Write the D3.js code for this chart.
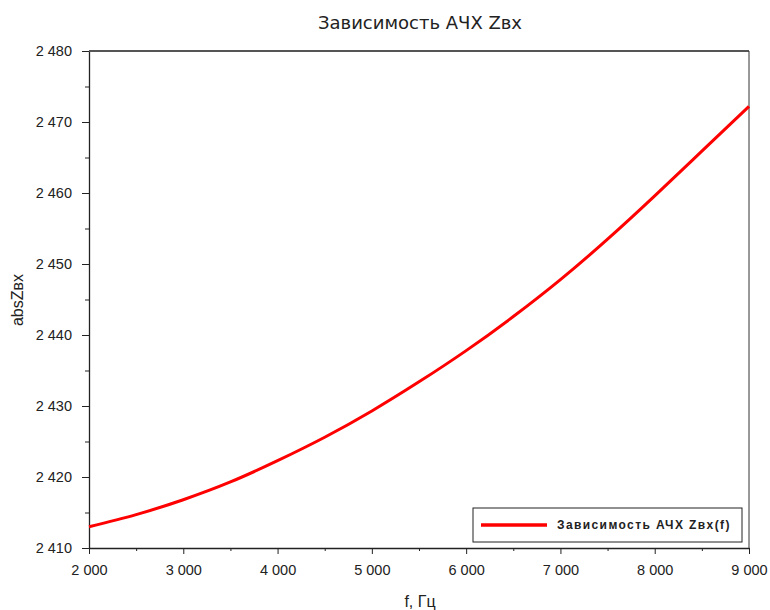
<!DOCTYPE html>
<html>
  <head>
    <meta charset="utf-8">
    <title>Зависимость АЧХ Zвх</title>
    <style>
    body {
        margin: 0;
        background-color: #FFF;
    }
    .tick text {
        font: 14.5px "Liberation Sans", Arial, sans-serif;
        fill: #222;
    }
    .title {
        font: 18px "DejaVu Sans", sans-serif;
        fill: #222;
    }
    .axis-label {
        font: 16px "Liberation Sans", Arial, sans-serif;
        fill: #222;
    }
    .legend text {
        font: bold 12px "Liberation Sans", Arial, sans-serif;
        letter-spacing: 1.4px;
        fill: #222;
    }
    </style>
    <script src="https://d3js.org/d3.v7.min.js"></script>
  </head>
  <body>
    <svg width="770" height="610"></svg>

    <script>
    // frequency, Hz
    var freqs = [2000, 2500, 3000, 3500, 4000, 4500, 5000, 5500, 6000, 6500, 7000, 7500, 8000, 8500, 9000];
    // |Zвх|
    var absZ = [2413.0, 2414.7, 2416.8, 2419.3, 2422.3, 2425.6, 2429.3, 2433.4, 2437.8, 2442.6, 2447.8, 2453.5, 2459.6, 2465.9, 2472.2];
    var xTicks = [2000, 3000, 4000, 5000, 6000, 7000, 8000, 9000];
    var yTicks = [2410, 2420, 2430, 2440, 2450, 2460, 2470, 2480];
    var seriesName = "Зависимость АЧХ Zвх(f)";

    var svg = d3.select("svg");
    var pLeft = 89, pRight = 749, pTop = 51, pBottom = 548;

    var x = d3.scaleLinear().domain([2000, 9000]).range([pLeft, pRight]);
    var y = d3.scaleLinear().domain([2410, 2480]).range([pBottom, pTop]);

    var fmt = function(d) { return d3.format(",")(d).replace(",", " "); };

    // minor ticks
    var xMinor = d3.range(2500, 9000, 1000);
    var yMinor = d3.range(2415, 2480, 10);

    svg.append("g")
        .attr("transform", "translate(0," + pBottom + ")")
        .call(d3.axisBottom(x).tickValues(xMinor).tickSize(3).tickFormat(""))
        .call(function(g) { g.select(".domain").remove(); })
        .selectAll("line").attr("stroke", "#222");

    svg.append("g")
        .attr("transform", "translate(" + pLeft + ",0)")
        .call(d3.axisLeft(y).tickValues(yMinor).tickSize(4).tickFormat(""))
        .call(function(g) { g.select(".domain").remove(); })
        .selectAll("line").attr("stroke", "#222");

    var xAxis = svg.append("g")
        .attr("transform", "translate(0," + pBottom + ")")
        .call(d3.axisBottom(x).tickValues(xTicks).tickSize(6).tickSizeOuter(0).tickPadding(11).tickFormat(fmt));
    xAxis.select(".domain").attr("stroke", "#222").attr("stroke-width", 1.3);
    xAxis.selectAll("line").attr("stroke", "#222");

    var yAxis = svg.append("g")
        .attr("transform", "translate(" + pLeft + ",0)")
        .call(d3.axisLeft(y).tickValues(yTicks).tickSize(7).tickSizeOuter(0).tickPadding(10).tickFormat(fmt));
    yAxis.select(".domain").attr("stroke", "#222").attr("stroke-width", 1.3);
    yAxis.selectAll("line").attr("stroke", "#222");

    // top and right frame
    svg.append("line")
        .attr("x1", pLeft).attr("x2", pRight).attr("y1", pTop).attr("y2", pTop)
        .attr("stroke", "#555").attr("stroke-width", 2);
    svg.append("line")
        .attr("x1", pRight).attr("x2", pRight).attr("y1", pTop).attr("y2", pBottom)
        .attr("stroke", "#333").attr("stroke-width", 1);

    // curve
    var line = d3.line()
        .x(function(d, i) { return x(freqs[i]); })
        .y(function(d) { return y(d); })
        .curve(d3.curveNatural);

    svg.append("path")
        .datum(absZ)
        .attr("d", line)
        .attr("fill", "none")
        .attr("stroke", "#FF0000")
        .attr("stroke-width", 3);

    // title and labels
    svg.append("text")
        .attr("class", "title")
        .attr("x", 420).attr("y", 29)
        .attr("text-anchor", "middle")
        .text("Зависимость АЧХ Zвх");

    svg.append("text")
        .attr("class", "axis-label")
        .attr("x", 420).attr("y", 607)
        .attr("text-anchor", "middle")
        .text("f, Гц");

    svg.append("text")
        .attr("class", "axis-label")
        .attr("transform", "translate(23,300) rotate(-90)")
        .attr("text-anchor", "middle")
        .text("absZвх");

    // legend
    var legend = svg.append("g").attr("class", "legend");
    legend.append("rect")
        .attr("x", 473).attr("y", 508).attr("width", 269).attr("height", 34)
        .attr("fill", "#FFF").attr("stroke", "#222").attr("stroke-width", 1);
    legend.append("line")
        .attr("x1", 481).attr("x2", 547).attr("y1", 525).attr("y2", 525)
        .attr("stroke", "#FF0000").attr("stroke-width", 3.5);
    legend.append("text")
        .attr("x", 557).attr("y", 529)
        .text(seriesName);
    </script>
  </body>
</html>
